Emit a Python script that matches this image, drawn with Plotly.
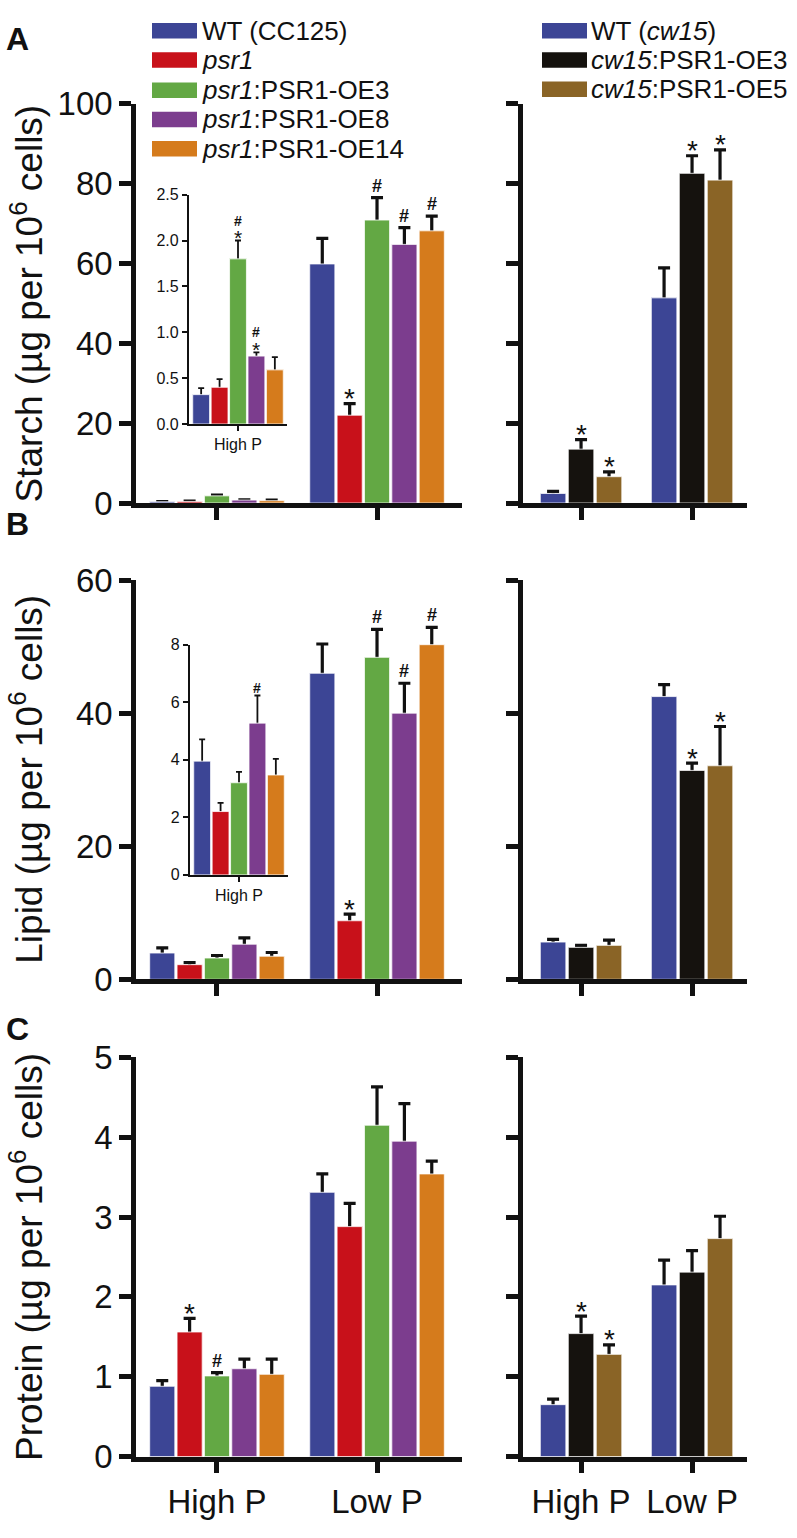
import plotly.graph_objects as go

W, H = 797, 1538
FONT = "Liberation Sans, Arial, sans-serif"

# ---------------- data ----------------
conditions = ["High P", "Low P"]
genotypes_left = ["WT (CC125)", "<i>psr1</i>", "<i>psr1</i>:PSR1-OE3",
                  "<i>psr1</i>:PSR1-OE8", "<i>psr1</i>:PSR1-OE14"]
colors_left = ["#3C4595", "#C8111A", "#63A844", "#7C3D8E", "#D57B1C"]
genotypes_right = ["WT (<i>cw15</i>)", "<i>cw15</i>:PSR1-OE3", "<i>cw15</i>:PSR1-OE5"]
colors_right = ["#3C4595", "#15120E", "#8A6426"]

# Starch (ug per 10^6 cells)
starch_left_high = [0.32, 0.40, 1.80, 0.74, 0.59]
starch_left_high_err = [0.07, 0.09, 0.20, 0.04, 0.14]
starch_left_low = [59.9, 22.0, 70.9, 64.8, 68.2]
starch_left_low_err = [6.4, 2.9, 5.6, 4.2, 3.7]
starch_left_high_sig_top = ["", "", "#", "#", ""]
starch_left_high_sig = ["", "", "*", "*", ""]
starch_left_low_sig = ["", "*", "#", "#", "#"]
starch_right_high = [2.4, 13.5, 6.6]
starch_right_high_err = [0.5, 2.4, 1.2]
starch_right_low = [51.4, 82.6, 80.9]
starch_right_low_err = [7.5, 4.4, 7.6]
starch_right_high_sig = ["", "*", "*"]
starch_right_low_sig = ["", "*", "*"]

# Lipid (ug per 10^6 cells)
lipid_left_high = [3.95, 2.2, 3.2, 5.27, 3.47]
lipid_left_high_err = [0.76, 0.3, 0.38, 0.96, 0.56]
lipid_left_high_sig = ["", "", "", "#", ""]
lipid_left_low = [46.0, 8.8, 48.4, 40.0, 50.3]
lipid_left_low_err = [4.4, 1.0, 4.2, 4.5, 2.6]
lipid_left_low_sig = ["", "*", "#", "#", "#"]
lipid_right_high = [5.6, 4.8, 5.1]
lipid_right_high_err = [0.4, 0.3, 0.8]
lipid_right_low = [42.5, 31.4, 32.1]
lipid_right_low_err = [1.8, 1.1, 5.9]
lipid_right_high_sig = ["", "", ""]
lipid_right_low_sig = ["", "*", "*"]

# Protein (ug per 10^6 cells)
protein_left_high = [0.88, 1.56, 1.01, 1.10, 1.03]
protein_left_high_err = [0.07, 0.17, 0.04, 0.12, 0.19]
protein_left_high_sig = ["", "*", "#", "", ""]
protein_left_low = [3.31, 2.88, 4.15, 3.95, 3.54]
protein_left_low_err = [0.23, 0.29, 0.48, 0.47, 0.16]
protein_left_low_sig = ["", "", "", "", ""]
protein_right_high = [0.65, 1.54, 1.28]
protein_right_high_err = [0.07, 0.22, 0.12]
protein_right_high_sig = ["", "*", "*"]
protein_right_low = [2.15, 2.31, 2.73]
protein_right_low_err = [0.31, 0.27, 0.28]
protein_right_low_sig = ["", "", ""]

starch_ticks = [0, 20, 40, 60, 80, 100]
lipid_ticks = [0, 20, 40, 60]
protein_ticks = [0, 1, 2, 3, 4, 5]
inset_a_ticks = [0.0, 0.5, 1.0, 1.5, 2.0, 2.5]
inset_b_ticks = [0, 2, 4, 6, 8]


def px(x):
    return x / W


def py(y):
    return 1 - y / H


fig = go.Figure()
layout = {}
annotations = []
shapes = []


def add_axes(k, xdom, ydom, xrange, yrange, yticks, ytext, xticktext, small=False):
    xn = "xaxis" if k == 1 else f"xaxis{k}"
    yn = "yaxis" if k == 1 else f"yaxis{k}"
    lw = 2.2 if small else 4.5
    tl = 5 if small else 12
    tw = 2 if small else 4.5
    fs = 16 if small else 33
    common = dict(showline=True, linecolor="#111", linewidth=lw, ticks="outside",
                  ticklen=tl, tickwidth=tw, tickcolor="#111", showgrid=False,
                  zeroline=False, fixedrange=True,
                  tickfont=dict(family=FONT, size=fs, color="#111"))
    xa = dict(common, domain=[px(xdom[0]), px(xdom[1])], range=xrange,
              anchor=f"y{k}" if k > 1 else "y")
    if xticktext:
        xa.update(tickvals=list(range(len(xticktext))), ticktext=xticktext, showticklabels=True)
    else:
        xa.update(tickvals=[0, 1], showticklabels=False)
    layout[xn] = xa
    ya = dict(common, domain=[py(ydom[0]), py(ydom[1])], range=yrange,
              anchor=f"x{k}" if k > 1 else "x", tickvals=yticks)
    if ytext is not None:
        ya.update(ticktext=ytext, showticklabels=True)
    else:
        ya.update(showticklabels=False)
    layout[yn] = ya


def add_group(k, vals_by_group, errs_by_group, sigs_by_group, colors, pitch, width,
              small=False, sig_top_by_group=None):
    xa = "x" if k == 1 else f"x{k}"
    ya = "y" if k == 1 else f"y{k}"
    n = len(colors)
    ng = len(vals_by_group)
    gw = n * pitch
    for i in range(n):
        xs = list(range(ng))
        ys = [vals_by_group[g][i] for g in range(ng)]
        es = [errs_by_group[g][i] for g in range(ng)]
        off = -gw / 2 + i * pitch + (pitch - width) / 2
        mk = dict(color=colors[i], line=dict(color="white", width=0.8))
        fig.add_trace(go.Bar(x=xs, y=ys, width=width, offset=off, marker=mk,
                             xaxis=xa, yaxis=ya, showlegend=False, hoverinfo="skip",
                             error_y=dict(type="data", array=es, symmetric=True,
                                          color="#111", thickness=1.8 if small else 3.2,
                                          width=3 if small else 6)))
        # overlay to hide the lower half of the error bars
        fig.add_trace(go.Bar(x=xs, y=ys, width=width, offset=off, marker=mk,
                             xaxis=xa, yaxis=ya, showlegend=False, hoverinfo="skip"))
        for g in range(ng):
            cx = g + off + width / 2
            top = ys[g] + es[g]
            s = sigs_by_group[g][i]
            if s:
                if s == "*":
                    annotations.append(dict(x=cx, y=top, xref=xa, yref=ya, text="*",
                                            showarrow=False, yanchor="middle",
                                            yshift=3 if small else 5,
                                            font=dict(family=FONT, size=21 if small else 28, color="#111")))
                else:
                    annotations.append(dict(x=cx, y=top, xref=xa, yref=ya, text="<b>#</b>",
                                            showarrow=False, yanchor="middle",
                                            yshift=8 if small else 12,
                                            font=dict(family=FONT, size=14 if small else 18, color="#111")))
            if sig_top_by_group is not None and sig_top_by_group[g][i]:
                annotations.append(dict(x=cx, y=top, xref=xa, yref=ya,
                                        text="<b>" + sig_top_by_group[g][i] + "</b>",
                                        showarrow=False, yanchor="middle", yshift=20,
                                        font=dict(family=FONT, size=14, color="#111")))


LEFT_X = (136, 462)
RIGHT_X = (523, 747)
LEFT_R = [-0.506, 1.531]
RIGHT_R = [-0.523, 1.495]
LP, LW = 0.171, 0.157
RP, RW = 0.252, 0.230

# Panel A
add_axes(1, LEFT_X, (497, 88), LEFT_R, [0, 100], starch_ticks, [str(t) for t in starch_ticks], None)
add_group(1, [starch_left_high, starch_left_low], [starch_left_high_err, starch_left_low_err],
          [["", "", "", "", ""], starch_left_low_sig], colors_left, LP, LW)
add_axes(2, RIGHT_X, (497, 88), RIGHT_R, [0, 100], starch_ticks, None, None)
add_group(2, [starch_right_high, starch_right_low], [starch_right_high_err, starch_right_low_err],
          [starch_right_high_sig, starch_right_low_sig], colors_right, RP, RW)
# Panel B
add_axes(3, LEFT_X, (985, 576), LEFT_R, [0, 60], lipid_ticks, [str(t) for t in lipid_ticks], None)
add_group(3, [lipid_left_high, lipid_left_low], [lipid_left_high_err, lipid_left_low_err],
          [["", "", "", "", ""], lipid_left_low_sig], colors_left, LP, LW)
add_axes(4, RIGHT_X, (985, 576), RIGHT_R, [0, 60], lipid_ticks, None, None)
add_group(4, [lipid_right_high, lipid_right_low], [lipid_right_high_err, lipid_right_low_err],
          [lipid_right_high_sig, lipid_right_low_sig], colors_right, RP, RW)
# Panel C
add_axes(5, LEFT_X, (1474, 1065), LEFT_R, [0, 5], protein_ticks, [str(t) for t in protein_ticks], conditions)
add_group(5, [protein_left_high, protein_left_low], [protein_left_high_err, protein_left_low_err],
          [protein_left_high_sig, protein_left_low_sig], colors_left, LP, LW)
add_axes(6, RIGHT_X, (1474, 1065), RIGHT_R, [0, 5], protein_ticks, None, conditions)
add_group(6, [protein_right_high, protein_right_low], [protein_right_high_err, protein_right_low_err],
          [protein_right_high_sig, protein_right_low_sig], colors_right, RP, RW)
# Insets
IP, IW = 0.188, 0.172
add_axes(7, (189, 287), (416, 181), [-0.5, 0.5], [0, 2.5], inset_a_ticks,
         [f"{t:.1f}" for t in inset_a_ticks], ["High P"], small=True)
add_group(7, [starch_left_high], [starch_left_high_err], [starch_left_high_sig], colors_left,
          IP, IW, small=True, sig_top_by_group=[starch_left_high_sig_top])
add_axes(8, (190, 288), (878, 642), [-0.5, 0.5], [0, 8], inset_b_ticks,
         [str(t) for t in inset_b_ticks], ["High P"], small=True)
add_group(8, [lipid_left_high], [lipid_left_high_err], [lipid_left_high_sig], colors_left,
          IP, IW, small=True)

# Y-axis titles
titles = [("Starch (µg per 10<sup>6</sup> cells)", (497 + 88) / 2),
          ("Lipid (µg per 10<sup>6</sup> cells)", (985 + 576) / 2),
          ("Protein (µg per 10<sup>6</sup> cells)", (1474 + 1065) / 2)]
for t, yc in titles:
    annotations.append(dict(x=px(27), y=py(yc), xref="paper", yref="paper", text=t,
                            textangle=-90, showarrow=False, xanchor="center", yanchor="middle",
                            font=dict(family=FONT, size=37, color="#111")))

# Panel letters
for letter, yc in [("A", 22), ("B", 518), ("C", 1036)]:
    annotations.append(dict(x=px(4), y=py(yc), xref="paper", yref="paper", text=f"<b>{letter}</b>",
                            showarrow=False, xanchor="left", yanchor="middle",
                            font=dict(family=FONT, size=32, color="#111")))

# Legends
left_rows = [13, 43, 74, 104, 134]
for name, col, yr in zip(genotypes_left, colors_left, left_rows):
    shapes.append(dict(type="rect", xref="paper", yref="paper", x0=px(152), x1=px(197),
                       y0=py(yr + 8), y1=py(yr - 8), fillcolor=col, line=dict(width=0)))
    annotations.append(dict(x=px(200), y=py(yr), xref="paper", yref="paper", text=name,
                            showarrow=False, xanchor="left", yanchor="middle",
                            font=dict(family=FONT, size=26, color="#111")))
right_rows = [13, 43, 73]
for name, col, yr in zip(genotypes_right, colors_right, right_rows):
    shapes.append(dict(type="rect", xref="paper", yref="paper", x0=px(542), x1=px(587),
                       y0=py(yr + 8), y1=py(yr - 8), fillcolor=col, line=dict(width=0)))
    annotations.append(dict(x=px(589), y=py(yr), xref="paper", yref="paper", text=name,
                            showarrow=False, xanchor="left", yanchor="middle",
                            font=dict(family=FONT, size=26, color="#111")))

fig.update_layout(width=W, height=H, margin=dict(l=0, r=0, t=0, b=0),
                  paper_bgcolor="white", plot_bgcolor="rgba(0,0,0,0)",
                  barmode="overlay", showlegend=False,
                  annotations=annotations, shapes=shapes,
                  font=dict(family=FONT, color="#111"), **layout)
fig.write_html("out.html", config={"displayModeBar": False},
               post_script="document.body.style.margin='0px';document.body.style.padding='0px';")
